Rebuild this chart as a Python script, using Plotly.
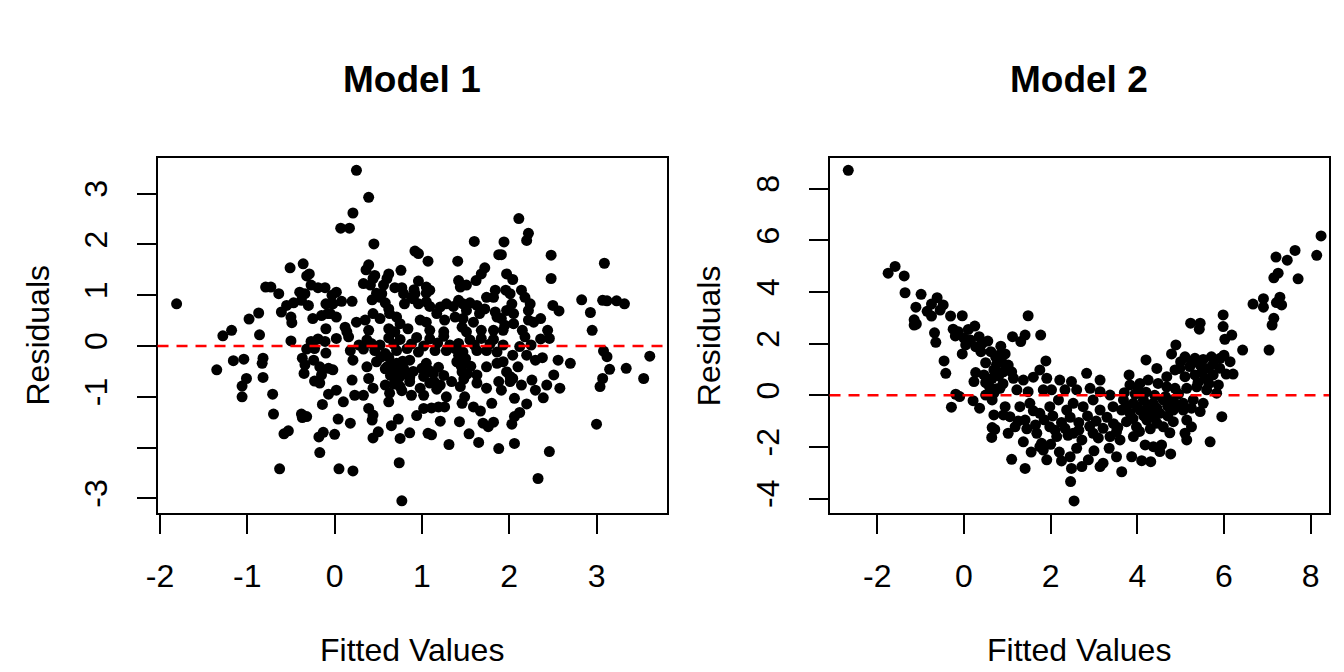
import plotly.graph_objects as go

# Model 1: residuals vs fitted values
m1_fitted = [
    -1.81, -0.51, -0.36, -0.29, -0.32, -0.79, -0.73, -0.64, -0.27, -0.19, -0.11, -0.40, -0.34, -0.55, -0.47,
    -0.61, -0.50, -0.49, -0.30, -0.38, -0.25, -0.15, -0.10, -0.08, -0.10, -0.87, -0.98, -1.18, -1.28, -0.86,
    -0.50, -0.27, -0.19, -0.11, -0.32, -0.23, -0.10, -1.35, -1.16, -1.04, -0.82, -0.83, -1.01, -1.06, -1.06,
    -0.82, -0.71, -0.70, -0.37, -0.24, -0.34, -0.35, -0.17, -0.15, -0.23, -0.17, -0.07, -0.07, -0.14, -0.38,
    -0.32, -0.37, -0.58, -0.53, -0.18, -0.13, -0.17, -0.63,
    0.25, 0.39, 0.21, 0.07, 0.17, 0.45, 1.60, 1.88, 0.92, 0.96, 1.07, 1.41, 0.39, 0.36, 0.76, 0.62, 0.60,
    0.46, 0.44, 1.72, 1.68, 1.62, 1.42, 1.51, 1.44, 0.96, 0.33, 0.41, 0.56, 0.54, 0.69, 0.77, 0.79, 0.91,
    0.92, 0.88, 1.05, 1.09, 1.05, 1.84, 1.82, 1.74, 0.02, -0.03, 0.48, 0.52, 0.20, 0.08, -0.02, 0.43, 0.58,
    0.62, 0.80, 0.90, 0.96, 1.05, 1.09, 1.21, 1.28, 1.36, 1.42, 1.47, 1.55, 1.63, 1.51, 1.72, 1.66, 1.84,
    1.86, -0.05, 0.02, 0.25, 0.35, 0.44, 0.52, 0.63, 0.71, 0.84, 0.75, 0.98, 1.05, 1.17, 1.26, 1.38, 1.47,
    1.59, 1.68, 0.12, 0.14, 0.39, 0.62, 0.69, 1.09, 1.25, 1.46, 1.51, 1.82,
    0.02, 0.16, 0.37, 0.62, 0.75, 0.94, 1.09, 1.25, 1.55, 1.68, 1.82,
    0.18, 0.33, 0.46, 0.58, 0.71, 0.83, 0.96, 1.15, 1.28, 1.38, 1.47, 1.63, 1.74, 1.86,
    -0.02, 0.21, 0.37, 0.48, 0.60, 0.71, 0.79, 0.86, 1.00, 1.05, 1.13, 1.40, 1.46, 1.63, 1.74, 1.86,
    0.02, 0.20, 0.23, 0.33, 0.39, 0.44, 0.58, 0.63, 0.71, 0.75, 0.86, 0.88, 0.98, 1.02, 1.09, 1.21, 1.28,
    1.34, 1.44, 1.49, 1.63, 1.74, 1.88,
    0.10, 0.62, 1.02, 1.11, 1.19, 1.26, 1.46, 1.59, 1.67, 1.80,
    0.39, 0.44, 0.43, 0.04, 0.18, 0.73, 0.65, 0.94, 1.21, 1.43, 1.70, 1.76, 1.82,
    0.00, 0.50, 0.44, 0.75, 0.86, 1.07, 1.11, 1.31, 1.54, 1.65, 1.88,
    0.05, 0.21, 0.74, 0.77,
    2.11, 2.22, 2.20, 1.94, 1.91, 2.48, 3.09, 1.97, 2.04, 2.48, 1.96, 2.01, 2.14, 2.18, 2.24, 2.22, 2.03,
    1.97, 2.05, 2.50, 2.57, 2.83, 3.07, 3.12, 3.23, 3.32, 2.93, 2.95, 2.44, 2.36, 2.28, 2.22, 1.91, 1.95,
    2.05, 2.15, 1.93,
    2.18, 2.36, 2.46, 1.93, 2.12, 2.25, 2.04, 2.20, 2.30, 2.38, 1.93, 1.97, 2.10, 2.01, 2.04, 2.56, 2.70,
    3.08, 3.12, 3.15, 3.34, 3.61, 3.54, 3.07, 3.04, 2.51, 2.43, 2.58, 2.14, 2.26, 2.30, 2.39, 1.91, 2.01,
    2.06, 2.20, 2.12, 2.06, 2.03, 3.00, 2.06, 2.46, 2.33,
    # packed clusters in the middle
    0.62, 0.66, 0.70, 0.74, 0.78, 0.82, 0.68, 0.77, 0.64, 0.58, 0.53, 0.90, 0.86,
    1.42, 1.45, 1.50, 1.52, 1.56, 1.48, 1.02, 1.08, 1.14, 1.17, 1.25, 1.19,
    0.28, 0.42, 0.52, 0.68, 0.88, 1.02, 1.18, 1.32, 1.42, 1.60, 1.78,
]
m1_resid = [
    0.83, 1.54, 1.62, 1.42, 1.38, 1.16, 1.16, 1.03, 1.20, 1.15, 1.15, 1.06, 1.03, 0.80, 0.85,
    0.67, 0.57, 0.46, 0.80, 0.90, 0.54, 0.60, 0.83, 0.64, 0.34, 0.65, 0.53, 0.31, 0.20, 0.22,
    0.10, 0.09, 0.14, 0.09, -0.06, -0.05, -0.14, -0.47, -0.29, -0.26, -0.24, -0.34, -0.64, -0.79, -1.00,
    -0.62, -0.95, -1.34, -0.24, -0.28, -0.37, -0.54, -0.41, -0.57, -0.69, -0.73, -0.44, -0.95, -1.15, -1.34,
    -1.39, -1.41, -1.73, -1.67, -1.79, -1.70, -2.10, -2.42,
    3.46, 2.93, 2.62, 2.32, 2.32, 2.01, 2.06, 1.80, 1.87, 1.82, 1.67, 1.67, 1.60, 1.50, 1.49, 1.42, 1.33,
    1.39, 1.33, 1.54, 1.42, 1.29, 1.29, 1.20, 1.16, 1.28, 1.23, 1.20, 1.20, 1.03, 1.15, 1.15, 1.03, 1.11,
    1.03, 0.96, 1.16, 1.10, 1.04, 1.10, 0.96, 0.96, 1.06, 1.00, 1.04, 0.96, 0.88, 0.88, 0.83, 0.91, 0.85,
    0.73, 0.83, 0.93, 0.83, 0.87, 0.78, 0.77, 0.83, 0.78, 0.90, 0.83, 0.85, 0.80, 0.70, 0.73, 0.64, 0.67,
    0.57, 0.64, 0.57, 0.47, 0.51, 0.64, 0.54, 0.64, 0.57, 0.34, 0.44, 0.51, 0.47, 0.64, 0.51, 0.57, 0.54,
    0.47, 0.31, 0.37, 0.28, 0.31, 0.34, 0.28, 0.31, 0.28, 0.37, 0.28, 0.31,
    0.15, 0.18, 0.12, 0.16, 0.13, 0.17, 0.14, 0.19, 0.12, 0.15, 0.13,
    -0.09, -0.06, -0.09, -0.15, -0.09, -0.05, -0.12, -0.09, -0.09, -0.05, -0.12, -0.09, -0.09, -0.12,
    -0.47, -0.28, -0.41, -0.31, -0.41, -0.34, -0.44, -0.28, -0.44, -0.34, -0.54, -0.31, -0.51, -0.57, -0.41, -0.34,
    -0.87, -0.67, -0.97, -0.97, -0.64, -0.83, -0.77, -0.93, -0.64, -0.80, -0.70, -0.97, -0.83, -0.97, -0.73, -0.77, -1.00,
    -0.70, -0.80, -1.00, -0.73, -0.83, -0.70,
    -1.10, -1.10, -1.23, -1.22, -1.20, -1.20, -1.13, -1.20, -1.28, -1.13,
    -1.23, -1.36, -1.46, -1.44, -1.52, -1.44, -1.57, -1.37, -1.48, -1.49, -1.52, -1.59, -1.50,
    -1.74, -1.69, -1.81, -1.82, -1.71, -1.72, -1.75, -1.94, -1.73, -1.90, -2.02,
    -2.42, -2.46, -2.30, -3.05,
    2.51, 2.22, 2.08, 2.05, 1.80, 1.79, 1.63, 1.42, 1.31, 1.33, 1.10, 1.03, 1.10, 0.96, 0.83, 0.70, 0.83,
    0.70, 0.64, 0.80, 0.69, 0.91, 0.90, 0.89, 0.89, 0.83, 0.66, 0.31, 0.31, 0.54, 0.47, 0.51, 0.54, 0.41,
    0.44, 0.31, 0.31,
    0.18, 0.14, 0.15, 0.02, -0.01, 0.02, -0.18, -0.18, -0.28, -0.23, -0.31, -0.51, -0.41, -0.60, -0.64, -0.28, -0.34,
    -0.10, -0.21, -0.46, -0.44, -0.20, -0.64, -0.64, -0.80, -0.57, -0.77, -0.83, -0.77, -0.67, -0.87, -1.02, -0.87, -0.70,
    -1.03, -1.14, -1.31, -1.39, -1.54, -1.54, -1.92, -2.08, -2.61,
    -0.22, -0.35, -0.50, -0.62, -0.30, -0.55, -0.75, -0.88, -0.58, -0.45, -0.22, -0.50, -0.62,
    -0.18, -0.40, -0.25, -0.55, -0.40, -0.65, -0.60, -0.48, -0.70, -0.85, -0.58, -0.42,
    0.02, 0.05, 0.02, 0.03, 0.04, 0.00, 0.06, 0.02, 0.05, 0.02, 0.04,
]

# Model 2: residuals vs fitted values
m2_fitted = [
    -2.67, -1.59, -1.75, -1.38, -1.36, -0.99, -0.62,
    -1.11, -0.75, -0.48, -1.15, -1.10, -1.15, -0.75, -0.31, -0.04, -0.68, -0.65, -0.25, -0.13, 0.25, 0.00,
    0.04, 0.15, 0.35, 0.42, 0.27, -0.04, 0.39, 0.62, 0.50, -0.46, -0.42, 0.73, 0.69, 0.27, 0.23, 0.46, 0.50,
    0.65, 0.58, 0.50, 0.69, 0.65, -0.19, -0.10, -0.29, 0.21, 0.36, 0.69, 0.65, 0.71, 0.64,
    1.48, 1.12, 1.41, 1.31, 1.77, 1.89, 0.87, 1.02, 0.91, 1.10, 1.14, 1.37, 1.60, 1.75, 1.91, 2.21, 2.48,
    2.83, 3.14, 0.83, 1.22, 1.48, 1.83, 2.02, 2.33, 2.60, 2.91, 3.14, 3.37,
    0.95, 1.06, 0.91, 1.29, 1.52, 1.41, 1.75, 1.98, 2.18, 2.37, 2.52, 2.75, 2.98, 3.14, 3.44,
    1.02, 1.18, 1.37, 1.68, 1.79, 1.98, 2.14, 2.33, 2.52, 2.72, 2.98, 3.21, 3.37, 3.52,
    1.10, 1.41, 1.91, 2.25, 2.45, 2.48, 2.72, 2.87, 3.14, 3.21, 3.52, 2.46, 2.54, 1.83, 1.75,
    6.67, 6.91, 7.21, 7.33, 7.15, 7.11, 5.98, 5.98, 6.18, 6.02, 5.23, 5.45, 5.43, 6.43, 7.04, 4.89, 4.79, 4.20,
    5.10, 5.33, 5.52, 5.71, 5.91, 6.14, 4.98, 5.21, 5.45, 5.64, 5.10, 5.33, 5.56, 5.75, 6.05, 6.21, 5.87,
    4.87, 4.68, 4.45, 4.25, 4.48, 4.68, 4.87, 5.14, 5.37, 5.60, 5.83,
    3.81, 3.83, 4.06, 4.02,
    3.68, 3.91, 4.14, 4.37, 4.60, 4.83, 5.06, 5.29, 5.52,
    3.64, 3.83, 4.06, 4.29, 4.52, 4.83, 5.06, 5.25, 5.45, 5.95,
    3.75, 3.98, 4.22, 4.45, 4.60, 4.83, 5.14, 5.25,
    3.60, 3.91, 4.18, 4.37, 4.56, 5.14, 5.10, 5.68,
    3.87, 4.10, 4.31, 4.77, 4.52, 3.64,
    8.24, 8.14, 7.64, 7.46, 7.20, 7.25, 7.15, 7.71, 6.91, 7.29,
    # packed clusters
    1.60, 1.85, 2.05, 2.25, 2.45, 2.65, 2.85, 3.05, 3.30, 2.10, 2.40, 2.65, 2.90, 3.10, 3.45, 1.25, 1.45,
    1.65, 2.00, 2.60, 3.00, 3.35, 1.55, 2.20,
    3.70, 3.95, 4.20, 4.40, 4.65, 4.95, 3.75, 4.00, 4.25, 4.45, 4.70, 4.95, 4.15, 4.40, 4.70, 3.90, 4.05,
    4.30, 4.75, 3.55,
    5.00, 5.25, 5.50, 5.75, 5.90, 5.40, 5.65, 6.00,
    0.80, 0.85, 0.75, 0.80, 0.90, 0.75, 0.95, -0.20, 0.10, 0.55, -0.55, -0.85,
]
m2_resid = [
    8.71, 4.99, 4.73, 4.62, 3.97, 3.91, 3.78,
    3.41, 3.53, 3.50, 2.92, 2.76, 2.72, 3.07, 3.07, 3.08, 2.42, 2.05, 2.56, 2.46, 2.68, 2.21,
    1.95, 2.14, 2.27, 2.01, 1.88, 1.60, 1.69, 1.69, 1.26, 1.33, 0.85, 1.49, 0.98, 0.88, 0.53, 0.79, 0.49,
    0.66, 0.36, 0.01, 0.08, -0.18, 0.04, -0.05, -0.46, -0.21, -0.50, -0.76, -1.25, -1.32, -1.63,
    3.08, 2.27, 2.33, 2.08, 2.33, 1.33, 1.30, 1.17, 0.91, 0.91, 0.66, 0.59, 0.70, 0.98, 0.66, 0.59, 0.53,
    0.85, 0.59, 0.27, 0.21, 0.14, 0.21, 0.21, 0.21, 0.21, 0.27, 0.14, 0.01,
    -0.44, -0.83, -0.76, -0.44, -0.31, -0.96, -0.70, -0.44, -0.18, -0.57, -0.31, -0.44, -0.18, -0.57, -0.44,
    -1.47, -1.22, -1.80, -1.47, -1.86, -1.22, -1.60, -1.28, -1.47, -1.73, -1.47, -1.28, -1.60, -1.41,
    -2.48, -2.83, -2.50, -2.54, -2.38, -2.83, -2.76, -2.50, -2.76, -2.63, -2.38, -3.34, -4.09, -2.12, -1.99,
    3.53, 3.41, 3.59, 3.50, 2.98, 2.72, 3.11, 2.66, 2.33, 2.17, 2.79, 2.79, 2.56, 1.75, 1.75, 1.95, 1.60, 1.37,
    1.49, 1.43, 1.39, 1.49, 1.43, 1.30, 1.04, 1.11, 1.17, 1.04, 0.72, 0.79, 0.66, 0.79, 0.82, 0.82, 0.40,
    0.98, 0.72, 1.04, 0.59, 0.46, 0.33, 0.27, 0.27, 0.33, 0.21, 0.08,
    0.79, 0.40, 0.46, 0.21,
    -0.18, -0.31, -0.18, -0.31, -0.18, -0.18, -0.31, -0.18, -0.31,
    -0.57, -0.70, -0.57, -0.63, -0.70, -0.57, -0.57, -0.50, -0.63, -0.83,
    -1.02, -1.22, -0.96, -1.08, -1.22, -1.02, -0.96, -1.22,
    -1.73, -1.60, -1.92, -1.99, -1.92, -1.73, -1.47, -1.80,
    -2.38, -2.53, -2.57, -2.27, -2.18, -2.96,
    6.17, 5.42, 5.61, 5.23, 5.35, 4.73, 4.55, 4.51, 3.74, 3.80,
    -0.60, -0.95, -0.80, -1.05, -0.85, -1.05, -0.80, -1.00, -0.85, -1.35, -1.55, -1.35, -1.20, -1.65, -1.10,
    -1.00, -1.30, -1.15, -1.90, -2.05, -2.15, -2.05, -2.20, -2.20,
    0.10, 0.05, 0.12, 0.00, -0.05, 0.05, -0.40, -0.45, -0.38, -0.50, -0.42, -0.40, -0.80, -0.85, -0.80,
    -0.90, -1.40, -1.30, -1.45, -1.25,
    1.30, 1.25, 0.95, 1.20, 1.05, 0.50, 0.45, 1.55,
    1.55, 1.90, 1.20, 0.75, 0.45, 0.25, 1.60, 2.30, 2.55, 2.10, 3.30, 3.25,
]

x1_ticks = [-2, -1, 0, 1, 2, 3]
y1_ticks = [-3, -2, -1, 0, 1, 2, 3]
y1_labels = ["-3", "", "-1", "0", "1", "2", "3"]   # R drops the overlapping "-2"
x2_ticks = [-2, 0, 2, 4, 6, 8]
y2_ticks = [-4, -2, 0, 2, 4, 6, 8]

FONT = "Liberation Sans, Arial, Helvetica, sans-serif"
Y_DOM = [0.2359, 0.7656]
X1_DOM = [0.1172, 0.4963]
X2_DOM = [0.6172, 0.9888]


def axis_style(domain, rng, ticks, labels, angle=0, standoff=0, anchor=None):
    return dict(
        domain=domain, range=rng, anchor=anchor,
        tickmode="array", tickvals=ticks, ticktext=labels,
        ticks="outside", ticklen=19, tickwidth=2, tickcolor="black",
        showline=True, mirror=True, linecolor="black", linewidth=2,
        showgrid=False, zeroline=False, automargin=False,
        tickfont=dict(size=32, color="black", family=FONT),
        tickangle=angle, ticklabelstandoff=standoff,
    )


fig = go.Figure()
fig.add_trace(go.Scatter(x=m1_fitted, y=m1_resid, mode="markers",
                         marker=dict(color="black", size=11), xaxis="x", yaxis="y"))
fig.add_trace(go.Scatter(x=m2_fitted, y=m2_resid, mode="markers",
                         marker=dict(color="black", size=11), xaxis="x2", yaxis="y2"))

# dashed reference line at zero residual
for xr, yr in [("x domain", "y"), ("x2 domain", "y2")]:
    fig.add_shape(type="line", xref=xr, yref=yr, x0=0, x1=1, y0=0, y1=0,
                  line=dict(color="red", width=2.5, dash="11px,8px"))

annotations = []
for cx, title in [((X1_DOM[0] + X1_DOM[1]) / 2, "Model 1"), ((X2_DOM[0] + X2_DOM[1]) / 2, "Model 2")]:
    annotations.append(dict(x=cx, y=0.881, xref="paper", yref="paper", text="<b>%s</b>" % title,
                            xanchor="center", yanchor="middle", showarrow=False,
                            font=dict(size=37, family=FONT, color="black")))
    annotations.append(dict(x=cx, y=0.033, xref="paper", yref="paper", text="Fitted Values",
                            xanchor="center", yanchor="middle", showarrow=False,
                            font=dict(size=32, family=FONT, color="black")))
for cx in [0.0283, 0.528]:
    annotations.append(dict(x=cx, y=(Y_DOM[0] + Y_DOM[1]) / 2, xref="paper", yref="paper", text="Residuals",
                            textangle=-90, xanchor="center", yanchor="middle", showarrow=False,
                            font=dict(size=32, family=FONT, color="black")))

fig.update_layout(
    width=1344, height=672,
    margin=dict(l=0, r=0, t=0, b=0),
    paper_bgcolor="white", plot_bgcolor="white",
    showlegend=False,
    font=dict(family=FONT, color="black"),
    xaxis=axis_style(X1_DOM, [-2.0286, 3.8076], x1_ticks, [str(v) for v in x1_ticks], standoff=14, anchor="y"),
    yaxis=axis_style(Y_DOM, [-3.299, 3.713], y1_ticks, y1_labels, angle=-90, standoff=17, anchor="x"),
    xaxis2=axis_style(X2_DOM, [-3.103, 8.422], x2_ticks, [str(v) for v in x2_ticks], standoff=14, anchor="y2"),
    yaxis2=axis_style(Y_DOM, [-4.576, 9.206], y2_ticks, [str(v) for v in y2_ticks], angle=-90, standoff=17,
                      anchor="x2"),
    annotations=annotations,
)

# the page body has a default 8px margin; drop it so the figure fills the window
fig.write_html("out.html", config={"displayModeBar": False},
               post_script="document.body.style.margin='0px';")
